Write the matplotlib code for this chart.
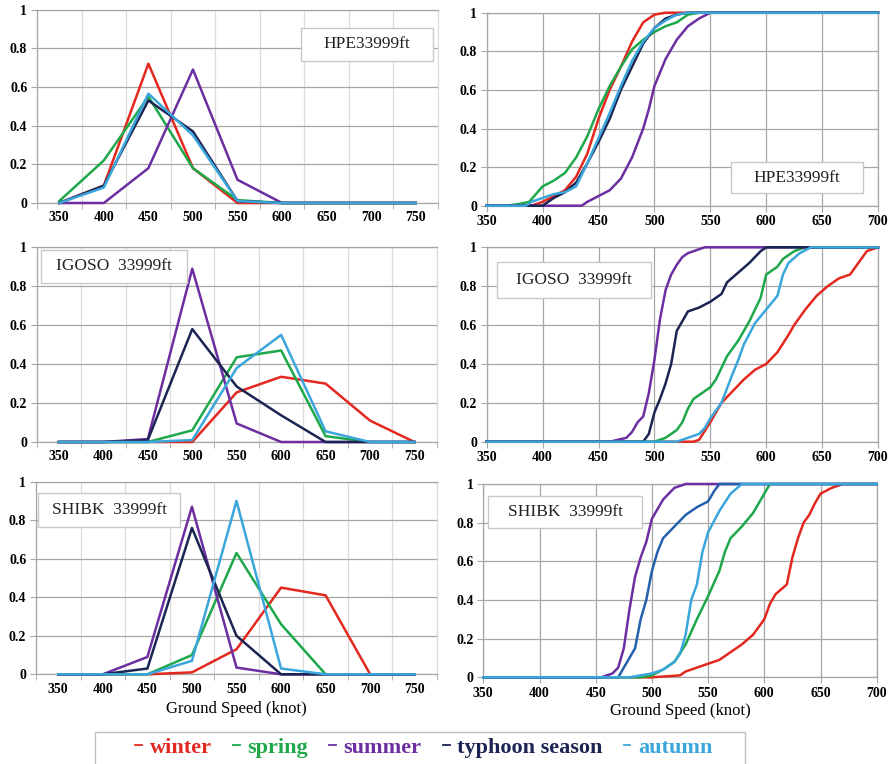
import matplotlib
matplotlib.use("Agg")
import matplotlib.pyplot as plt
from matplotlib.lines import Line2D
from matplotlib.patches import Rectangle

W, H = 896, 764

seasons = ["winter", "spring", "summer", "typhoon season", "autumn"]
colors = ["#e3281f", "#1ea84a", "#6c2ea0", "#1b2452", "#3ba6db"]

# ---- frequency (left column) ----
speed_cat = [350, 400, 450, 500, 550, 600, 650, 700, 750]

hpe_pdf = {
    "winter":         [0.00, 0.09, 0.72, 0.18, 0.00, 0.00, 0.00, 0.00, 0.00],
    "spring":         [0.01, 0.22, 0.55, 0.18, 0.015, 0.00, 0.00, 0.00, 0.00],
    "summer":         [0.00, 0.00, 0.18, 0.69, 0.12, 0.00, 0.00, 0.00, 0.00],
    "typhoon season": [0.00, 0.09, 0.53, 0.37, 0.01, 0.00, 0.00, 0.00, 0.00],
    "autumn":         [0.00, 0.08, 0.565, 0.35, 0.01, 0.00, 0.00, 0.00, 0.00],
}
igoso_pdf = {
    "winter":         [0.00, 0.00, 0.00, 0.00, 0.255, 0.335, 0.30, 0.11, 0.00],
    "spring":         [0.00, 0.00, 0.00, 0.06, 0.435, 0.47, 0.03, 0.00, 0.00],
    "summer":         [0.00, 0.00, 0.015, 0.89, 0.095, 0.00, 0.00, 0.00, 0.00],
    "typhoon season": [0.00, 0.00, 0.01, 0.58, 0.285, 0.137, 0.00, 0.00, 0.00],
    "autumn":         [0.00, 0.00, 0.00, 0.01, 0.38, 0.55, 0.055, 0.00, 0.00],
}
shibk_pdf = {
    "winter":         [0.00, 0.00, 0.00, 0.01, 0.13, 0.45, 0.41, 0.00, 0.00],
    "spring":         [0.00, 0.00, 0.00, 0.10, 0.63, 0.26, 0.00, 0.00, 0.00],
    "summer":         [0.00, 0.00, 0.09, 0.87, 0.035, 0.00, 0.00, 0.00, 0.00],
    "typhoon season": [0.00, 0.00, 0.03, 0.76, 0.20, 0.00, 0.00, 0.00, 0.00],
    "autumn":         [0.00, 0.00, 0.00, 0.07, 0.90, 0.03, 0.00, 0.00, 0.00],
}

# ---- cumulative (right column): (speed, cumulative share) ----
hpe_cdf = {
    "winter": ([350, 390, 400, 410, 420, 430, 440, 450, 460, 470, 480, 490, 500, 510, 700],
               [0, 0, 0.02, 0.05, 0.08, 0.15, 0.27, 0.45, 0.60, 0.72, 0.85, 0.95, 0.99, 1, 1]),
    "spring": ([350, 368, 380, 388, 400, 410, 420, 430, 440, 450, 460, 470, 480, 490, 500, 510, 520, 530, 540, 700],
               [0, 0, 0.01, 0.02, 0.10, 0.13, 0.17, 0.25, 0.36, 0.50, 0.62, 0.72, 0.81, 0.86, 0.90, 0.93, 0.95, 0.99, 1, 1]),
    "summer": ([350, 435, 440, 450, 460, 470, 480, 490, 495, 500, 510, 520, 530, 540, 550, 700],
               [0, 0, 0.02, 0.05, 0.08, 0.14, 0.25, 0.40, 0.50, 0.62, 0.76, 0.86, 0.93, 0.97, 1, 1]),
    "typhoon season": ([350, 400, 410, 420, 430, 440, 450, 460, 470, 480, 490, 500, 510, 520, 530, 700],
                       [0, 0, 0.04, 0.07, 0.12, 0.22, 0.33, 0.45, 0.60, 0.72, 0.84, 0.92, 0.97, 0.99, 1, 1]),
    "autumn": ([350, 385, 390, 400, 410, 420, 430, 440, 450, 460, 470, 480, 490, 500, 510, 520, 530, 700],
               [0, 0, 0.02, 0.04, 0.06, 0.07, 0.10, 0.22, 0.35, 0.48, 0.62, 0.75, 0.85, 0.92, 0.96, 0.99, 1, 1]),
}
igoso_cdf = {
    "winter": ([350, 535, 540, 550, 555, 560, 570, 580, 590, 600, 610, 620, 625, 635, 645, 655, 665, 675, 680, 690, 700],
               [0, 0, 0.01, 0.10, 0.15, 0.20, 0.26, 0.32, 0.37, 0.40, 0.46, 0.55, 0.60, 0.68, 0.75, 0.80, 0.84, 0.86, 0.90, 0.98, 1]),
    "spring": ([350, 500, 510, 520, 525, 530, 535, 545, 550, 555, 560, 565, 575, 585, 595, 600, 610, 615, 625, 635, 700],
               [0, 0, 0.02, 0.06, 0.10, 0.17, 0.22, 0.26, 0.28, 0.32, 0.38, 0.44, 0.52, 0.62, 0.74, 0.86, 0.90, 0.94, 0.98, 1, 1]),
    "summer": ([350, 460, 475, 480, 485, 490, 495, 500, 505, 510, 515, 520, 525, 530, 540, 545, 700],
               [0, 0, 0.02, 0.05, 0.10, 0.13, 0.25, 0.42, 0.63, 0.78, 0.86, 0.91, 0.95, 0.97, 0.99, 1, 1]),
    "typhoon season": ([350, 490, 495, 500, 505, 510, 515, 520, 525, 530, 540, 550, 560, 565, 575, 585, 595, 600, 700],
                       [0, 0, 0.04, 0.15, 0.22, 0.30, 0.40, 0.57, 0.62, 0.67, 0.69, 0.72, 0.76, 0.82, 0.87, 0.92, 0.98, 1, 1]),
    "autumn": ([350, 520, 530, 540, 545, 550, 560, 570, 575, 580, 590, 600, 610, 615, 620, 630, 640, 700],
               [0, 0, 0.02, 0.04, 0.07, 0.12, 0.20, 0.35, 0.42, 0.50, 0.61, 0.68, 0.75, 0.86, 0.92, 0.97, 1, 1]),
}
shibk_cdf = {
    "winter": ([350, 500, 525, 530, 540, 550, 560, 570, 580, 590, 600, 605, 610, 620, 625, 630, 635, 640, 645, 650, 660, 670, 700],
               [0, 0, 0.01, 0.03, 0.05, 0.07, 0.09, 0.13, 0.17, 0.22, 0.30, 0.38, 0.43, 0.48, 0.62, 0.72, 0.80, 0.84, 0.90, 0.95, 0.98, 1, 1]),
    "spring": ([350, 490, 500, 510, 520, 530, 540, 550, 560, 565, 570, 580, 590, 600, 605, 700],
               [0, 0, 0.01, 0.04, 0.08, 0.17, 0.30, 0.42, 0.55, 0.65, 0.72, 0.78, 0.85, 0.95, 1, 1]),
    "summer": ([350, 455, 465, 470, 475, 480, 485, 490, 495, 500, 505, 510, 515, 520, 530, 700],
               [0, 0, 0.02, 0.05, 0.15, 0.35, 0.52, 0.62, 0.70, 0.82, 0.87, 0.92, 0.95, 0.98, 1, 1]),
    "typhoon season": ([350, 470, 475, 480, 485, 490, 495, 500, 505, 510, 520, 530, 540, 550, 555, 560, 700],
                       [0, 0, 0.05, 0.10, 0.15, 0.30, 0.40, 0.55, 0.65, 0.72, 0.78, 0.84, 0.88, 0.91, 0.96, 1, 1]),
    "autumn": ([350, 480, 500, 510, 520, 525, 530, 535, 540, 545, 550, 560, 570, 580, 700],
               [0, 0, 0.02, 0.04, 0.08, 0.12, 0.22, 0.40, 0.48, 0.65, 0.75, 0.86, 0.95, 1, 1]),
}

routes = ["HPE33999ft", "IGOSO  33999ft", "SHIBK  33999ft"]
pdfs = [hpe_pdf, igoso_pdf, shibk_pdf]
cdfs = [hpe_cdf, igoso_cdf, shibk_cdf]
yticks = [0, 0.2, 0.4, 0.6, 0.8, 1]
ylabels = ["0", "0.2", "0.4", "0.6", "0.8", "1"]
cdf_ticks = [350, 400, 450, 500, 550, 600, 650, 700]

serif = "Liberation Serif"
grid_c = "#a6a6a6"
light_c = "#dcdcdc"

# axes boxes in pixels: (left, top, right, bottom)
left_boxes = [(37, 9.5, 438, 203), (36.7, 247.3, 436.7, 442), (36, 481.7, 437, 674.3)]
right_boxes = [(486.7, 12.7, 878, 205.7), (486.7, 247.3, 878, 441.7), (483.3, 484, 876.7, 677.3)]
# label boxes in pixels
left_tags = [(301, 28, 433, 61), (41, 250, 187, 283), (38, 493, 180, 527)]
right_tags = [(731, 162, 863, 193), (497, 262, 651, 298), (488, 496, 642, 528)]


def px_axes(b):
    l, t, r, bt = b
    return fig.add_axes([l / W, 1 - bt / H, (r - l) / W, (bt - t) / H])


def px_rect(l, t, r, bt, **kw):
    fig.patches.append(Rectangle((l / W, 1 - bt / H), (r - l) / W, (bt - t) / H,
                                 transform=fig.transFigure, **kw))


def tag(b, text):
    l, t, r, bt = b
    px_rect(l, t, r, bt, facecolor="white", edgecolor="#c8c8c8", lw=1.0, zorder=5)
    fig.text((l + r) / 2 / W, 1 - (t + bt) / 2 / H, text, ha="center", va="center",
             family=serif, fontsize=12.5, color="#222222", zorder=6)


def style(ax):
    ax.set_ylim(0, 1)
    ax.set_yticks(yticks)
    ax.set_yticklabels(ylabels, family=serif, fontweight="bold", fontsize=10)
    ax.tick_params(axis="both", direction="out", length=4, width=0.8, color=grid_c, pad=3)
    for s in ax.spines.values():
        s.set_color(grid_c)
        s.set_linewidth(0.9)
    ax.set_axisbelow(True)


fig = plt.figure(figsize=(W / 100, H / 100), dpi=100)

for i in range(3):
    # frequency panel (category axis)
    ax = px_axes(left_boxes[i])
    style(ax)
    idx = list(range(len(speed_cat)))
    for name, c in zip(seasons, colors):
        ax.plot(idx, pdfs[i][name], color=c, lw=1.8, clip_on=False, zorder=3)
    ax.set_xlim(-0.5, len(speed_cat) - 0.5)
    ax.set_xticks(idx)
    ax.set_xticklabels([str(v) for v in speed_cat], family=serif, fontweight="bold", fontsize=10)
    ax.tick_params(axis="x", length=0, pad=6)
    ax.set_xticks([k - 0.5 for k in range(len(speed_cat) + 1)], minor=True)
    ax.tick_params(axis="x", which="minor", direction="out", length=4, color=grid_c)
    ax.grid(axis="y", color=grid_c, lw=0.9)
    ax.grid(axis="x", which="minor", color=light_c, lw=0.9)
    ax.spines["right"].set_color(light_c)
    tag(left_tags[i], routes[i])
    if i == 2:
        ax.set_xlabel("Ground Speed (knot)", family=serif, fontsize=12, labelpad=4)

    # cumulative panel
    ax = px_axes(right_boxes[i])
    style(ax)
    for name, c in zip(seasons, colors):
        xs, ys = cdfs[i][name]
        if i == 2 and name == "typhoon season":
            c = "#2460ad"
        ax.plot(xs, ys, color=c, lw=1.8, clip_on=False, zorder=3)
    ax.set_xlim(350, 700)
    ax.set_xticks(cdf_ticks)
    ax.set_xticklabels([str(v) for v in cdf_ticks], family=serif, fontweight="bold", fontsize=10)
    ax.grid(color=grid_c, lw=0.9)
    tag(right_tags[i], routes[i])
    if i == 2:
        ax.set_xlabel("Ground Speed (knot)", family=serif, fontsize=12, labelpad=2)

# legend: frame drawn separately, entries centred inside
px_rect(95, 732, 745, 768, facecolor="white", edgecolor="#bfbfbf", lw=1.0, zorder=1)
handles = [Line2D([], [], color=c, lw=1.3) for c in colors]
leg = fig.legend(handles, seasons, loc="center", ncol=5,
                 bbox_to_anchor=(424 / W, 1 - 748 / H), handlelength=0.3,
                 handletextpad=0.35, columnspacing=0.95, frameon=False,
                 borderpad=0.2, prop={"family": serif, "weight": "bold", "size": 16})
for t, c in zip(leg.get_texts(), colors):
    t.set_color(c)

fig.savefig("out.png", dpi=100)
